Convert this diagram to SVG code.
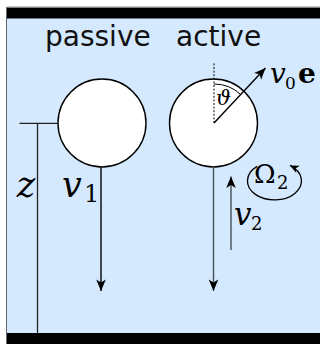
<svg xmlns="http://www.w3.org/2000/svg" width="320" height="344" viewBox="0 0 320 344">
<defs>
<style>
.math{font-family:"DejaVu Serif",serif;font-style:italic;fill:#000}
.up{font-family:"DejaVu Serif",serif;fill:#000}
.title{font-family:"DejaVu Sans",sans-serif;font-size:28px;fill:#111}
.particle{fill:#fff;stroke:#000;stroke-width:1.4}
.ln{fill:none;stroke:#000;stroke-width:1.4}
.gray{stroke:#46505a}
</style>
<marker id="ah" markerUnits="userSpaceOnUse" markerWidth="14" markerHeight="12" viewBox="-12 -6 14 12" refX="0" refY="0" orient="auto">
<path d="M0,0 L-11.5,-4.8 L-8.5,0 L-11.5,4.8 Z" fill="#000"/>
</marker>
<marker id="ahs" markerUnits="userSpaceOnUse" markerWidth="12" markerHeight="10" viewBox="-10 -5 12 10" refX="0" refY="0" orient="auto">
<path d="M0,0 L-9,-4 L-6.5,0 L-9,4 Z" fill="#000"/>
</marker>
</defs>
<g id="frame">
<rect x="0" y="0" width="320" height="344" fill="#fff"/>
<rect x="7" y="18" width="313" height="316" fill="#d4e9fd"/>
<rect x="7" y="7.5" width="313" height="11" fill="#000"/>
<rect x="7" y="333" width="313" height="11" fill="#000"/>
<line x1="6.5" y1="7" x2="6.5" y2="344" stroke="#666" stroke-width="1"/>
<line x1="7" y1="7" x2="320" y2="7" stroke="#888" stroke-width="1"/>
</g>
<g id="label-passive"><text class="title" x="45" y="46">passive</text></g>
<g id="label-active"><text class="title" x="176" y="46">active</text></g>
<g id="scale-z">
<line x1="19.5" y1="123.3" x2="58" y2="123.3" stroke="#222" stroke-width="1.3"/>
<line x1="37.5" y1="123.3" x2="37.5" y2="333" stroke="#222" stroke-width="1.3"/>
<text class="math" x="26" y="197" font-size="35" font-style="italic" text-anchor="middle">z</text>
</g>
<g id="particle-passive">
<circle class="particle" cx="102" cy="123" r="44"/>
</g>
<g id="particle-active">
<circle class="particle" cx="213.5" cy="123" r="44"/>
<line x1="214" y1="123" x2="214" y2="63" stroke="#000" stroke-width="1" stroke-dasharray="2,1.6"/>
<path d="M214,84 A39 39 0 0 1 240.7,94.5" fill="none" stroke="#000" stroke-width="1"/>
<text class="math" x="216" y="105" font-size="21" font-style="italic">ϑ</text>
</g>
<g id="connectors">
<line class="ln" x1="101" y1="167" x2="101" y2="291" marker-end="url(#ah)"/>
<line class="ln gray" x1="213.5" y1="167" x2="213.5" y2="291" marker-end="url(#ah)"/>
<line class="ln gray" x1="231" y1="250" x2="231" y2="176.5" marker-end="url(#ah)"/>
<line class="ln" x1="214" y1="123" x2="265.5" y2="68" marker-end="url(#ah)"/>
<path d="M257.1,166.4 A27 19 0 1 0 290,165.4" fill="none" stroke="#000" stroke-width="1.3" marker-end="url(#ahs)"/>
</g>
<g id="label-v1">
<text class="math" x="62" y="197" font-size="35" font-style="italic">v</text>
<text class="up" x="84" y="202" font-size="24">1</text>
</g>
<g id="label-v2">
<text class="math" x="234" y="225" font-size="31" font-style="italic">v</text>
<text class="up" x="251" y="230" font-size="18">2</text>
</g>
<g id="label-omega">
<text class="up" x="254" y="183" font-size="26">Ω</text>
<text class="up" x="277" y="188.5" font-size="18">2</text>
</g>
<g id="label-v0e">
<text class="math" x="270" y="83" font-size="28" font-style="italic">v</text>
<text class="up" x="285" y="89" font-size="17">0</text>
<text class="up" x="298" y="83" font-weight="bold" font-size="28">e</text>
</g>
</svg>
